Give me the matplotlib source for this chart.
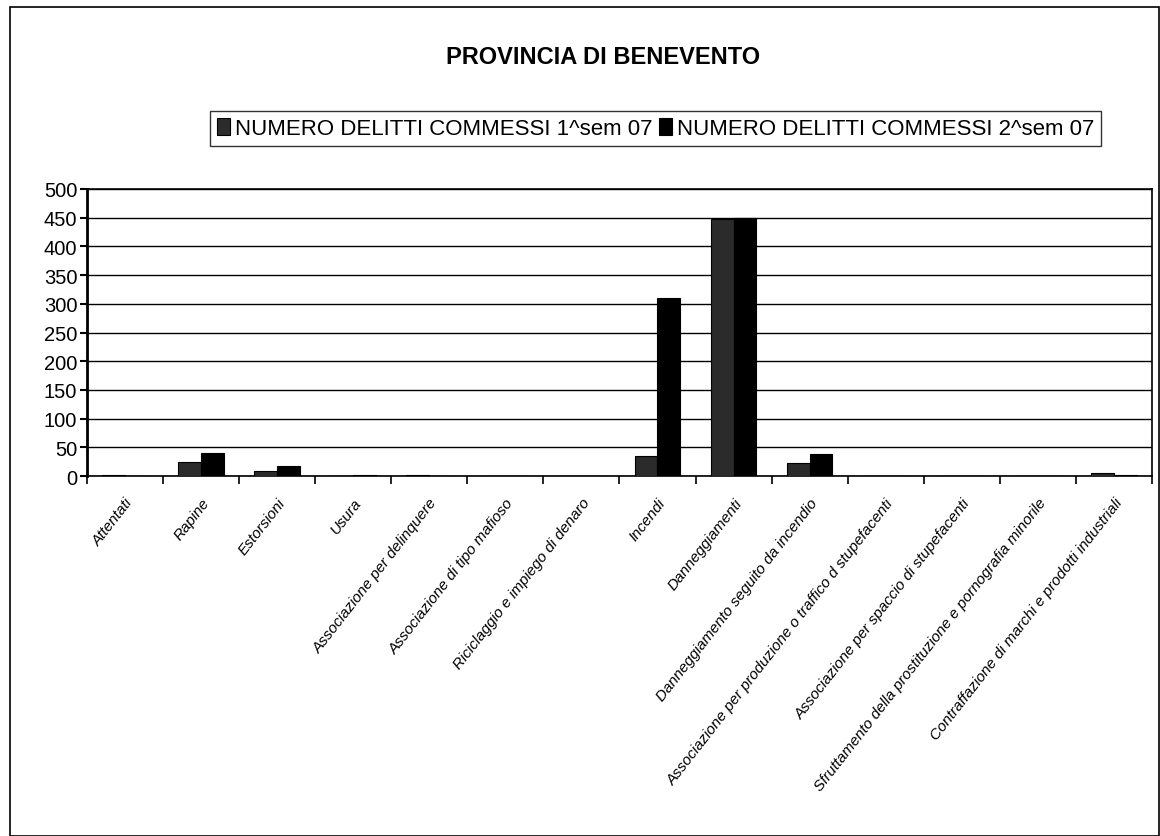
import numpy as np
import matplotlib
matplotlib.use("Agg")
import matplotlib.pyplot as plt
from matplotlib.patches import Rectangle

plt.rcParams["font.family"] = ["Liberation Sans", "DejaVu Sans"]

categories = [
    "Attentati",
    "Rapine",
    "Estorsioni",
    "Usura",
    "Associazione per delinquere",
    "Associazione di tipo mafioso",
    "Riciclaggio e impiego di denaro",
    "Incendi",
    "Danneggiamenti",
    "Danneggiamento seguito da incendio",
    "Associazione per produzione o traffico d stupefacenti",
    "Associazione per spaccio di stupefacenti",
    "Sfruttamento della prostituzione e pornografia minorile",
    "Contraffazione di marchi e prodotti industriali",
]
sem1 = [2, 25, 8, 0, 2, 0, 0, 35, 447, 22, 0, 0, 0, 5]
sem2 = [1, 40, 18, 2, 0, 1, 0, 310, 450, 38, 0, 0, 0, 2]
series_names = ["NUMERO DELITTI COMMESSI 1^sem 07", "NUMERO DELITTI COMMESSI 2^sem 07"]
yticks = list(range(0, 501, 50))

fig = plt.figure(figsize=(11.6, 8.37), dpi=100)
ax = fig.add_axes([0.075, 0.43, 0.918, 0.343])

x = np.arange(len(categories))
w = 0.3
b1 = ax.bar(x - w / 2, sem1, w, color="#2b2b2b", edgecolor="black", linewidth=0.8,
            label=series_names[0], zorder=3)
b2 = ax.bar(x + w / 2, sem2, w, color="black", edgecolor="black", linewidth=0.8,
            label=series_names[1], zorder=3)

ax.set_xlim(-0.5, len(categories) - 0.5)
ax.set_ylim(0, 500)
ax.set_yticks(yticks)
ax.tick_params(axis="y", labelsize=14.5, length=5, width=1.5, direction="out", pad=2)
ax.yaxis.grid(True, color="black", linewidth=1.0, zorder=0)

# ticks between categories, labels centred
ax.set_xticks(np.arange(len(categories) + 1) - 0.5)
ax.set_xticklabels([])
ax.tick_params(axis="x", which="major", length=6, width=1.2)
ax.set_xticks(x, minor=True)
ax.set_xticklabels(categories, minor=True, rotation=52, ha="right",
                   rotation_mode="anchor", fontsize=11, style="italic")
ax.tick_params(axis="x", which="minor", length=0, pad=14)

for s in ax.spines.values():
    s.set_color("black")
    s.set_linewidth(1.2)
ax.spines["left"].set_linewidth(2)

fig.text(0.52, 0.931, "PROVINCIA DI BENEVENTO", ha="center", va="center",
         fontsize=17, fontweight="bold")

leg = fig.legend(handles=[b1, b2], loc="center", bbox_to_anchor=(0.565, 0.845),
                 ncol=2, fontsize=16, frameon=True, fancybox=False,
                 handlelength=0.6, handleheight=0.8, handletextpad=0.2,
                 columnspacing=0.3, borderpad=0.3)
leg.get_frame().set_edgecolor("black")
leg.get_frame().set_linewidth(1.0)

# outer chart border
fig.patches.append(Rectangle((0.009, 0.0), 0.99, 0.99, transform=fig.transFigure,
                             fill=False, edgecolor="black", linewidth=1.2))

fig.savefig("out.png", dpi=100, facecolor="white")
